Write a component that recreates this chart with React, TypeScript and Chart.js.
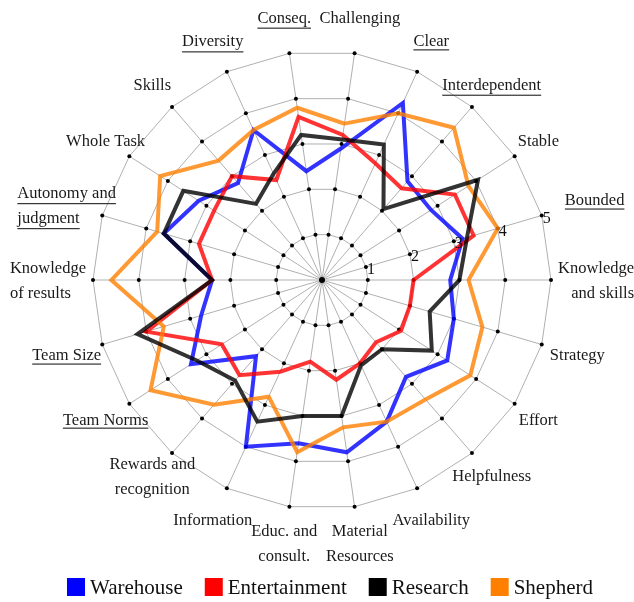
import React, { useEffect, useRef } from 'react';
import { Chart, registerables } from 'chart.js';

Chart.register(...registerables);

const FONT = '"Liberation Serif", "DejaVu Serif", serif';

const categories: (string | string[])[] = [
  'Challenging',
  'Clear',
  'Interdependent',
  'Stable',
  'Bounded',
  ['Knowledge', 'and skills'],
  'Strategy',
  'Effort',
  'Helpfulness',
  'Availability',
  ['Material', 'Resources'],
  ['Educ. and', 'consult.'],
  'Information',
  ['Rewards and', 'recognition'],
  'Team Norms',
  'Team Size',
  ['Knowledge', 'of results'],
  ['Autonomy and', 'judgment'],
  'Whole Task',
  'Skills',
  'Diversity',
  'Conseq.',
];

const underlinedLabels = [
  'Conseq.',
  'Clear',
  'Interdependent',
  'Bounded',
  'Diversity',
  'Autonomy and judgment',
  'Team Size',
  'Team Norms',
];

const seriesNames = ['Warehouse', 'Entertainment', 'Research', 'Shepherd'];

const warehouse = [2.9, 4.25, 2.85, 2.83, 3.2, 2.8, 3.0, 3.25, 2.8, 3.4, 3.8, 3.6, 4.0, 2.2, 3.4, 2.75, 2.4, 3.6, 3.2, 2.8, 3.6, 2.4];
const entertainment = [3.2, 2.8, 2.65, 3.45, 3.45, 2.0, 2.0, 2.05, 1.8, 2.0, 2.2, 1.8, 2.2, 2.75, 2.6, 4.0, 2.4, 2.8, 2.8, 3.0, 2.4, 3.6];
const research = [3.1, 3.25, 2.05, 4.05, 3.3, 3.0, 2.45, 2.85, 2.0, 2.05, 3.0, 3.0, 3.4, 2.9, 3.25, 4.2, 2.4, 3.6, 3.6, 2.2, 2.55, 3.2];
const shepherd = [3.45, 4.0, 4.4, 3.8, 4.0, 3.2, 3.65, 3.85, 3.45, 3.4, 3.25, 3.8, 2.8, 3.6, 4.45, 3.6, 4.6, 3.75, 4.2, 3.45, 3.6, 3.8];

const tickValues = [1, 2, 3, 4, 5];
const tickAxisIndex = 4;

const seriesColors = ['#0000ff', '#ff0000', '#000000', '#ff8000'];
const lineColors = ['rgba(0,0,255,0.8)', 'rgba(255,0,0,0.8)', 'rgba(0,0,0,0.8)', 'rgba(255,128,0,0.8)'];
const drawOrder = [3, 2, 0, 1];

const dotsPlugin = {
  id: 'ringDots',
  beforeDatasetsDraw(chart: any) {
    const scale = chart.scales.r;
    const ctx = chart.ctx;
    ctx.save();
    ctx.fillStyle = '#000';
    const n = chart.data.labels.length;
    for (let i = 0; i < n; i++) {
      for (const v of tickValues) {
        const p = scale.getPointPositionForValue(i, v);
        ctx.beginPath();
        ctx.arc(p.x, p.y, 2, 0, Math.PI * 2);
        ctx.fill();
      }
    }
    ctx.beginPath();
    ctx.arc(scale.xCenter, scale.yCenter, 3, 0, Math.PI * 2);
    ctx.fill();
    ctx.restore();
  },
};

const textPlugin = {
  id: 'customText',
  afterDatasetsDraw(chart: any) {
    const scale = chart.scales.r;
    const ctx = chart.ctx;
    ctx.save();
    // tick labels
    ctx.font = `16px ${FONT}`;
    ctx.fillStyle = '#111';
    ctx.textAlign = 'center';
    ctx.textBaseline = 'middle';
    for (const v of tickValues) {
      const p = scale.getPointPositionForValue(tickAxisIndex, v);
      ctx.fillText(String(v), p.x + 5, p.y + 3);
    }
    // point labels
    ctx.font = `16.5px ${FONT}`;
    ctx.textAlign = 'left';
    ctx.textBaseline = 'alphabetic';
    const labels = chart.data.labels as (string | string[])[];
    labels.forEach((lab, i) => {
      const lines = Array.isArray(lab) ? lab : [lab];
      const key = lines.join(' ');
      const widths = lines.map((l) => ctx.measureText(l).width);
      const w = Math.max(...widths);
      const a = scale.getIndexAngle(i);
      const s = Math.sin(a);
      const c = Math.cos(a);
      // extra clearance on the axis that carries the tick labels
      const extra = i === tickAxisIndex ? 18 : 0;
      const R = scale.drawingArea + 7 + 22 * c * c + extra;
      const hh = 8;
      const t = Math.min(
        Math.abs(s) > 1e-6 ? w / 2 / Math.abs(s) : Infinity,
        Math.abs(c) > 1e-6 ? hh / Math.abs(c) : Infinity
      );
      const p = scale.getPointPosition(i, R + t);
      const lh = 25;
      lines.forEach((line, k) => {
        const lw = widths[k];
        let left: number;
        if (s > 0.95) left = p.x + w / 2 - lw;
        else if (s < -0.95) left = p.x - w / 2;
        else left = p.x - lw / 2;
        const cy = p.y + (k - (lines.length - 1) / 2) * lh;
        const base = cy + 5.5;
        ctx.fillStyle = '#1a1a1a';
        ctx.fillText(line, left, base);
        if (underlinedLabels.includes(key)) {
          const desc = /[gjpqy]/.test(line) ? 5 : 3;
          ctx.fillStyle = '#333';
          ctx.fillRect(left, base + desc, lw, 1.2);
        }
      });
    });
    // legend
    ctx.font = `21px ${FONT}`;
    ctx.textBaseline = 'middle';
    const box = 18;
    const gap = 5;
    const sep = 22;
    const items = chart.data.datasets.map((d: any, i: number) => ({
      label: d.label as string,
      color: seriesColors[i],
      tw: ctx.measureText(d.label).width,
    }));
    const total = items.reduce((acc: number, it: any) => acc + box + gap + it.tw, 0) + sep * (items.length - 1);
    let x = scale.xCenter + 8 - total / 2;
    const cy = chart.height - 15;
    items.forEach((it: any) => {
      ctx.fillStyle = it.color;
      ctx.fillRect(x, cy - box / 2, box, box);
      ctx.fillStyle = '#111';
      ctx.fillText(it.label, x + box + gap, cy + 1);
      x += box + gap + it.tw + sep;
    });
    ctx.restore();
  },
};

export default function App() {
  const canvasRef = useRef<HTMLCanvasElement | null>(null);

  useEffect(() => {
    if (!canvasRef.current) return;
    const seriesValues = [warehouse, entertainment, research, shepherd];
    const chart = new Chart(canvasRef.current, {
      type: 'radar',
      data: {
        labels: categories as any,
        datasets: seriesNames.map((name, i) => ({
          label: name,
          data: seriesValues[i],
          borderColor: lineColors[i],
          backgroundColor: 'transparent',
          borderWidth: 4,
          fill: false,
          pointRadius: 0,
          pointHoverRadius: 0,
          tension: 0,
          borderJoinStyle: 'miter' as const,
          order: drawOrder[i],
        })),
      },
      options: {
        animation: false,
        responsive: true,
        maintainAspectRatio: false,
        layout: { padding: { left: 93, right: 83, top: 51, bottom: 93 } },
        plugins: {
          legend: { display: false },
          tooltip: { enabled: false },
        },
        scales: {
          r: {
            min: 0,
            max: 5,
            startAngle: 360 / 44,
            ticks: { display: false, stepSize: 1 },
            pointLabels: { display: false },
            grid: { color: '#b0b0b0', lineWidth: 1 },
            angleLines: { color: '#b0b0b0', lineWidth: 1 },
          },
        },
      },
      plugins: [dotsPlugin, textPlugin],
    });
    return () => chart.destroy();
  }, []);

  return (
    <div style={{ position: 'absolute', left: 0, top: 0, width: 634, height: 602 }}>
      <canvas ref={canvasRef} />
    </div>
  );
}
